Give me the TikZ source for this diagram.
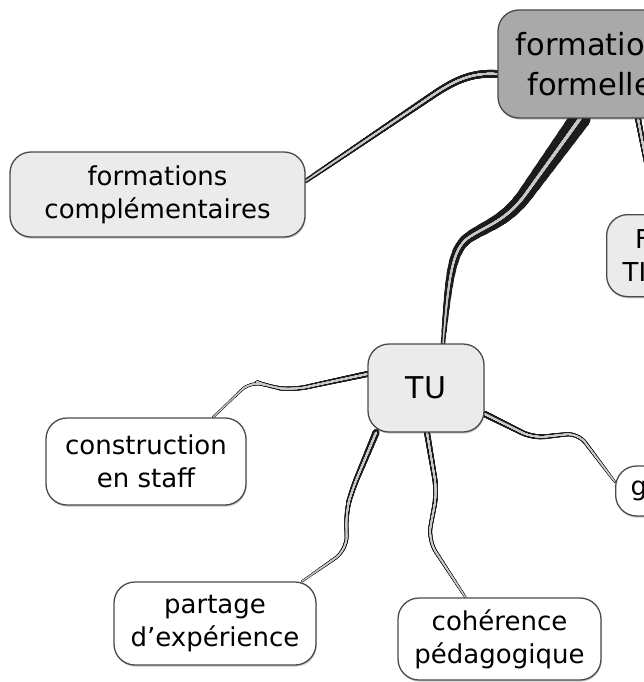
\documentclass[tikz,border=0pt]{standalone}
\usepackage{fontspec}
\setmainfont{DejaVu Sans}
\usetikzlibrary{backgrounds,shadows}

\definecolor{edgeink}{HTML}{1C1C1C}
\definecolor{coreline}{HTML}{C8C8C8}
\definecolor{rootfill}{HTML}{A9A9A9}
\definecolor{topicfill}{HTML}{EBEBEB}
\definecolor{frameline}{HTML}{4A4A4A}

% A tapering mind-map branch: a dark ribbon with a light core.
% #1 width at the start, #2 width at the end, #3 path length, #4 path.
% The taper is built from strokes that only cover the first part of
% the path (dash pattern), each wider than the one covering more.
\newcommand\twig[4]{%
  \draw[edgeink, line width=#2 pt, line cap=round, line join=round] #4;
  \foreach \k in {23,22,...,0}{%
    \pgfmathsetmacro\twigw{#1+(#2-#1)*\k/24}%
    \pgfmathsetmacro\twigl{#3*\k/24+0.5}%
    \draw[edgeink, line width=\twigw pt, line cap=round, line join=round,
          dash pattern=on \twigl pt off 3000pt] #4;
  }
  \pgfmathsetmacro\twigw{0.1*#2+1.0}%
  \draw[coreline, line width=\twigw pt, line cap=round, line join=round] #4;
  \foreach \k in {23,22,...,0}{%
    \pgfmathsetmacro\twigw{0.1*(#1+(#2-#1)*\k/24)+1.0}%
    \pgfmathsetmacro\twigl{#3*\k/24+0.5}%
    \draw[coreline, line width=\twigw pt, line cap=round, line join=round,
          dash pattern=on \twigl pt off 3000pt] #4;
  }
}

\tikzset{
  mapbox/.style={draw=frameline, line width=1.3pt, rounded corners=21pt,
    align=center, inner sep=0pt, font=\fontsize{26}{33}\selectfont,
    drop shadow={shadow xshift=0.6pt, shadow yshift=-1.6pt, opacity=0.22, fill=black}},
  rootbox/.style={mapbox, fill=rootfill, font=\fontsize{30.5}{40}\selectfont},
  topicbox/.style={mapbox, fill=topicfill},
  leafbox/.style={mapbox, fill=white},
  bend/.style={rounded corners=#1},
}

\begin{document}
\begin{tikzpicture}[x=1pt,y=-1pt]
\useasboundingbox (0,0) rectangle (644,682);
\clip (0,0) rectangle (644,682);

% nodes
\node[rootbox, minimum width=200pt, minimum height=108pt] (ff) at (598,64) {formations\\formelles};
\node[topicbox, minimum width=295pt, minimum height=85pt] (fc) at (157.5,194.5) {formations\\complémentaires};
\node[topicbox, anchor=north west, minimum height=82pt, inner xsep=16pt] (ft) at (606,214) {Formation\\TICE tutorat};
\node[topicbox, minimum width=116pt, minimum height=88pt, font=\fontsize{30}{36}\selectfont] (tu) at (426,388) {TU};
\node[leafbox, minimum width=200pt, minimum height=87pt] (cs) at (146,461.5) {construction\\en staff};
\node[leafbox, anchor=west, minimum height=50pt, inner xsep=15pt] (gg) at (615,491) {groupes};
\node[leafbox, minimum width=202pt, minimum height=83pt] (pe) at (215,623.5) {partage\\d’expérience};
\node[leafbox, minimum width=203pt, minimum height=82pt] (ch) at (499.5,639) {cohérence\\pédagogique};

% branches
\begin{pgfonlayer}{background}
\twig{8}{4.6}{222}{([yshift=-10pt]ff.west) .. controls (470,72) and (452,82) .. (430,97) -- ([yshift=13.5pt]fc.east)}
\twig{21}{4.6}{276}{([xshift=-18pt]ff.south) -- (525,195) .. controls (505,222) and (485,226) .. (468,238) .. controls (452,250) and (449,275) .. ([xshift=17pt]tu.north)}
\twig{6}{3}{98}{([xshift=40pt]ff.south) -- ([xshift=50pt]ft.north west)}
\twig{6}{2.4}{173}{[bend=14pt] ([yshift=14pt]tu.west) -- (325,383) -- (293,390) -- (270,387) -- (252,380) -- ([xshift=67pt]cs.north)}
\twig{6.5}{2.4}{161}{[bend=12pt] ([yshift=-26pt]tu.east) -- (533,438) -- (578,433) -- ([yshift=9pt]gg.west)}
\twig{7}{2.4}{179}{[bend=14pt] ([xshift=-50pt]tu.south) -- (352,490) -- (346,512) -- (347,550) -- ([xshift=87pt]pe.north)}
\twig{6}{2.4}{179}{[bend=14pt] ([xshift=1pt]tu.south) -- (437,492) -- (428,540) -- ([xshift=-34pt]ch.north)}
\end{pgfonlayer}
\end{tikzpicture}
\end{document}
